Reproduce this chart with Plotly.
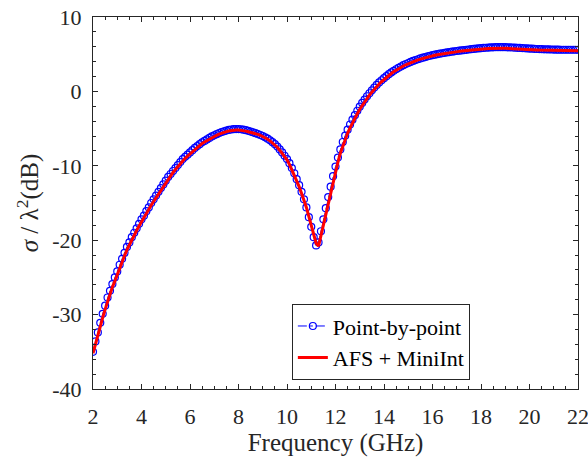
import plotly.graph_objects as go

# Frequency grid (GHz), 0.1 GHz steps from 2 to 22
freq = [round(2 + 0.1 * i, 1) for i in range(201)]

# Point-by-point (blue circles), dB
point_by_point = [
    -35.0, -33.6, -32.4, -31.1, -29.9, -28.8, -27.7, -26.8, -25.9, -25.0,
    -24.2, -23.3, -22.5, -21.7, -20.9, -20.3, -19.6, -19.0, -18.4, -17.8,
    -17.2, -16.7, -16.1, -15.6, -15.0, -14.5, -14.0, -13.5, -13.0, -12.5,
    -12.0, -11.5, -11.1, -10.7, -10.3, -9.9, -9.5, -9.1, -8.8, -8.5,
    -8.2, -7.9, -7.6, -7.35, -7.1, -6.85, -6.65, -6.45, -6.25, -6.05,
    -5.9, -5.75, -5.6, -5.47, -5.36, -5.26, -5.18, -5.12, -5.08, -5.06,
    -5.06, -5.09, -5.14, -5.21, -5.3, -5.4, -5.5, -5.61, -5.73, -5.86,
    -6.0, -6.17, -6.36, -6.58, -6.83, -7.1, -7.42, -7.8, -8.2, -8.65,
    -9.1, -9.65, -10.3, -11.0, -11.8, -12.6, -13.5, -14.5, -15.6, -16.9,
    -18.2, -19.6, -20.7, -20.3, -18.8, -17.2, -15.7, -14.2, -12.8, -11.4,
    -10.1, -8.9, -7.8, -6.8, -5.95, -5.15, -4.45, -3.8, -3.2, -2.6,
    -2.05, -1.55, -1.1, -0.65, -0.25, 0.15, 0.52, 0.87, 1.2, 1.5,
    1.78, 2.05, 2.31, 2.55, 2.77, 2.98, 3.17, 3.35, 3.52, 3.68,
    3.82, 3.96, 4.09, 4.21, 4.32, 4.43, 4.53, 4.62, 4.71, 4.79,
    4.87, 4.94, 5.01, 5.07, 5.13, 5.19, 5.24, 5.29, 5.34, 5.39,
    5.43, 5.47, 5.51, 5.55, 5.59, 5.63, 5.67, 5.71, 5.75, 5.78,
    5.81, 5.84, 5.87, 5.89, 5.91, 5.93, 5.94, 5.95, 5.95, 5.95,
    5.94, 5.93, 5.92, 5.9, 5.88, 5.86, 5.84, 5.82, 5.8, 5.78,
    5.76, 5.74, 5.72, 5.7, 5.69, 5.67, 5.66, 5.65, 5.64, 5.63,
    5.62, 5.61, 5.61, 5.6, 5.6, 5.6, 5.6, 5.6, 5.6, 5.6,
    5.6,
]

# AFS + MiniInt (red line), dB
afs_miniint = [
    -35.2, -33.9, -32.7, -31.6, -30.4, -29.3, -28.2, -27.2, -26.3, -25.5,
    -24.6, -23.8, -22.9, -22.1, -21.3, -20.6, -20.0, -19.3, -18.7, -18.1,
    -17.5, -17.0, -16.4, -15.9, -15.3, -14.8, -14.3, -13.8, -13.3, -12.8,
    -12.3, -11.8, -11.3, -10.9, -10.5, -10.1, -9.7, -9.3, -9.0, -8.7,
    -8.4, -8.1, -7.8, -7.5, -7.3, -7.0, -6.8, -6.6, -6.4, -6.2,
    -6.05, -5.9, -5.75, -5.6, -5.5, -5.4, -5.32, -5.26, -5.22, -5.2,
    -5.2, -5.22, -5.27, -5.34, -5.43, -5.5, -5.55, -5.65, -5.77, -5.9,
    -6.05, -6.22, -6.42, -6.65, -6.9, -7.18, -7.5, -7.9, -8.3, -8.75,
    -9.2, -9.8, -10.5, -11.2, -12.0, -12.8, -13.7, -14.6, -15.6, -16.8,
    -18.1, -19.4, -20.4, -20.8, -19.4, -17.8, -16.3, -14.8, -13.4, -12.0,
    -10.7, -9.5, -8.3, -7.3, -6.4, -5.6, -4.9, -4.2, -3.6, -3.0,
    -2.4, -1.9, -1.4, -0.95, -0.5, -0.1, 0.3, 0.65, 1.0, 1.3,
    1.6, 1.88, 2.15, 2.4, 2.63, 2.85, 3.05, 3.24, 3.42, 3.58,
    3.73, 3.87, 4.0, 4.12, 4.23, 4.34, 4.44, 4.53, 4.62, 4.7,
    4.78, 4.85, 4.92, 4.98, 5.04, 5.1, 5.15, 5.2, 5.25, 5.3,
    5.34, 5.38, 5.42, 5.46, 5.5, 5.54, 5.58, 5.61, 5.64, 5.67,
    5.7, 5.72, 5.74, 5.76, 5.78, 5.79, 5.8, 5.81, 5.81, 5.81,
    5.8, 5.79, 5.78, 5.77, 5.75, 5.73, 5.71, 5.69, 5.67, 5.65,
    5.63, 5.61, 5.59, 5.58, 5.56, 5.55, 5.54, 5.53, 5.52, 5.51,
    5.5, 5.49, 5.49, 5.48, 5.48, 5.48, 5.48, 5.48, 5.48, 5.48,
    5.48,
]

x_ticks = [2, 4, 6, 8, 10, 12, 14, 16, 18, 20, 22]
x_tick_labels = [str(v) for v in x_ticks]
y_ticks = [-40, -30, -20, -10, 0, 10]
y_tick_labels = ["-40", "-30", "-20", "-10", "0", "10"]

FONT = "Liberation Serif"
AX = "#262626"

fig = go.Figure()
fig.add_trace(go.Scatter(
    x=freq, y=point_by_point, mode="lines+markers", name="Point-by-point",
    line=dict(color="#0000ff", width=1, dash="dashdot"),
    marker=dict(symbol="circle-open", size=7, color="#0000ff",
                line=dict(width=1.2, color="#0000ff")),
))
fig.add_trace(go.Scatter(
    x=freq, y=afs_miniint, mode="lines", name="AFS + MiniInt",
    line=dict(color="#ff0000", width=3),
))

axis_common = dict(
    showgrid=False, zeroline=False, showline=True, linecolor=AX, linewidth=1,
    mirror="allticks", ticks="inside", ticklen=5, tickwidth=1, tickcolor=AX,
    tickfont=dict(family=FONT, size=22, color=AX), automargin=False,
    ticklabeloverflow="allow",
)

fig.update_xaxes(
    range=[2, 22], tickmode="array", tickvals=x_ticks, ticktext=x_tick_labels,
    minor=dict(ticks="inside", ticklen=3, tickcolor=AX, dtick=0.5, showgrid=False),
    title=dict(text="Frequency (GHz)", font=dict(family=FONT, size=25, color=AX), standoff=4),
    ticklabelstandoff=8,
    **axis_common,
)
fig.update_yaxes(
    range=[-40, 10], tickmode="array", tickvals=y_ticks, ticktext=y_tick_labels,
    minor=dict(ticks="inside", ticklen=3, tickcolor=AX, dtick=2, showgrid=False),
    title=dict(text="<i>σ</i> / λ<sup>2</sup>(dB)", font=dict(family=FONT, size=25, color=AX), standoff=6),
    ticklabelstandoff=6,
    **axis_common,
)

fig.update_layout(
    width=588, height=457,
    margin=dict(l=93, r=10, t=17, b=68),
    paper_bgcolor="white", plot_bgcolor="white",
    font=dict(family=FONT, color=AX),
    legend=dict(
        x=0.41, y=0.228, xanchor="left", yanchor="top",
        bgcolor="white", bordercolor=AX, borderwidth=1,
        font=dict(family=FONT, size=22, color="black"),
        tracegroupgap=0,
    ),
)

fig.write_html("out.html")
